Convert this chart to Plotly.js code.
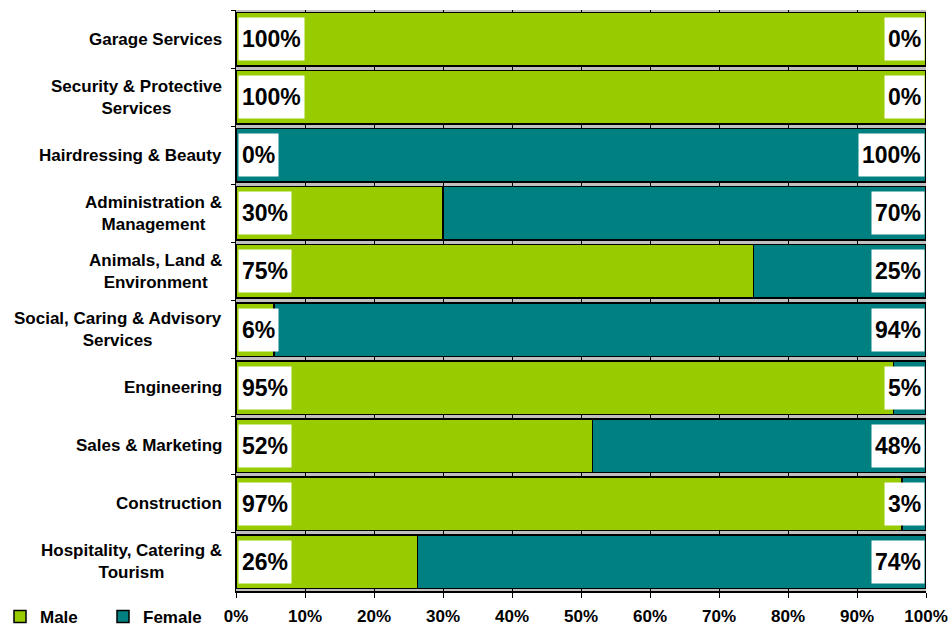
<!DOCTYPE html>
<html>
<head>
<meta charset="utf-8">
<script src="https://cdn.plot.ly/plotly-3.0.1.min.js"></script>
<style>html,body{margin:0;padding:0;background:#fff;}#chart{width:950px;height:627px;}</style>
</head>
<body>
<div id="chart"></div>
<script>
var categories = ["Garage Services", "Security & Protective Services", "Hairdressing & Beauty",
  "Administration & Management", "Animals, Land & Environment", "Social, Caring & Advisory Services",
  "Engineering", "Sales & Marketing", "Construction", "Hospitality, Catering & Tourism"];
var categoryLabels = ["Garage Services", "Security & Protective<br>Services", "Hairdressing & Beauty",
  "Administration &<br>Management", "Animals, Land &<br>Environment", "Social, Caring & Advisory<br>Services",
  "Engineering", "Sales & Marketing", "Construction", "Hospitality, Catering &<br>Tourism"];
var maleValues = [100, 100, 0, 30, 75, 5.5, 95.3, 51.7, 96.5, 26.3];
var femaleValues = [0, 0, 100, 70, 25, 94.5, 4.7, 48.3, 3.5, 73.7];
var maleLabels = ["100%", "100%", "0%", "30%", "75%", "6%", "95%", "52%", "97%", "26%"];
var femaleLabels = ["0%", "0%", "100%", "70%", "25%", "94%", "5%", "48%", "3%", "74%"];
var xTickValues = [0, 10, 20, 30, 40, 50, 60, 70, 80, 90, 100];
var xTickLabels = ["0%", "10%", "20%", "30%", "40%", "50%", "60%", "70%", "80%", "90%", "100%"];

var FONT = "Liberation Sans, Arial, sans-serif";

var traces = [
  {type: "bar", orientation: "h", name: "<b>Male</b>", y: categories, x: maleValues,
   marker: {color: "#99CC00", line: {color: "#000000", width: 1.5}}, hoverinfo: "skip"},
  {type: "bar", orientation: "h", name: "<b>Female</b>", y: categories, x: femaleValues,
   marker: {color: "#008080", line: {color: "#000000", width: 1.5}}, hoverinfo: "skip"}
];

var annotations = [];
categories.forEach(function (c, i) {
  annotations.push({xref: "paper", yref: "y", x: 0, y: c, xanchor: "right", yanchor: "middle",
    xshift: -12, align: "center", showarrow: false, text: "<b>" + categoryLabels[i] + "</b>",
    font: {family: FONT, size: 17, color: "#000"}});
  annotations.push({xref: "x", yref: "y", x: 0, y: c, xanchor: "left", yanchor: "middle",
    xshift: 2, showarrow: false, text: "<b>" + maleLabels[i] + "</b>", bgcolor: "#ffffff", borderpad: 3,
    height: 36, font: {family: FONT, size: 23, color: "#000"}});
  annotations.push({xref: "x", yref: "y", x: 100, y: c, xanchor: "right", yanchor: "middle",
    xshift: -1, showarrow: false, text: "<b>" + femaleLabels[i] + "</b>", bgcolor: "#ffffff", borderpad: 3,
    height: 36, font: {family: FONT, size: 23, color: "#000"}});
});

var layout = {
  width: 950, height: 627,
  margin: {l: 236, r: 24, t: 10, b: 36, autoexpand: false},
  paper_bgcolor: "#ffffff", plot_bgcolor: "#c0c0c0",
  barmode: "stack", bargap: 0.08,
  showlegend: true,
  legend: {orientation: "h", traceorder: "normal", xref: "container", yref: "container",
    x: 0.0, xanchor: "left", y: 0.016, yanchor: "middle",
    font: {family: FONT, size: 17, color: "#000"}, entrywidth: 58, entrywidthmode: "pixels",
    itemclick: false, bgcolor: "rgba(0,0,0,0)"},
  xaxis: {range: [0, 100], tickvals: xTickValues, ticktext: xTickLabels.map(function (t) { return "<b>" + t + "</b>"; }),
    showgrid: true, gridcolor: "#000000", gridwidth: 1, zeroline: false,
    showline: true, linecolor: "#000000", linewidth: 1.5, ticks: "outside", ticklen: 5, tickcolor: "#000",
    ticklabelstandoff: 4, automargin: false,
    tickfont: {family: FONT, size: 17, color: "#000"}, fixedrange: true},
  yaxis: {type: "category", autorange: "reversed", showticklabels: false, showgrid: false, zeroline: false,
    showline: true, linecolor: "#000000", linewidth: 1.5, ticks: "outside", tickson: "boundaries",
    ticklen: 4, tickcolor: "#000", automargin: false, fixedrange: true},
  annotations: annotations
};

Plotly.newPlot("chart", traces, layout, {displayModeBar: false, staticPlot: true});
</script>
</body>
</html>
